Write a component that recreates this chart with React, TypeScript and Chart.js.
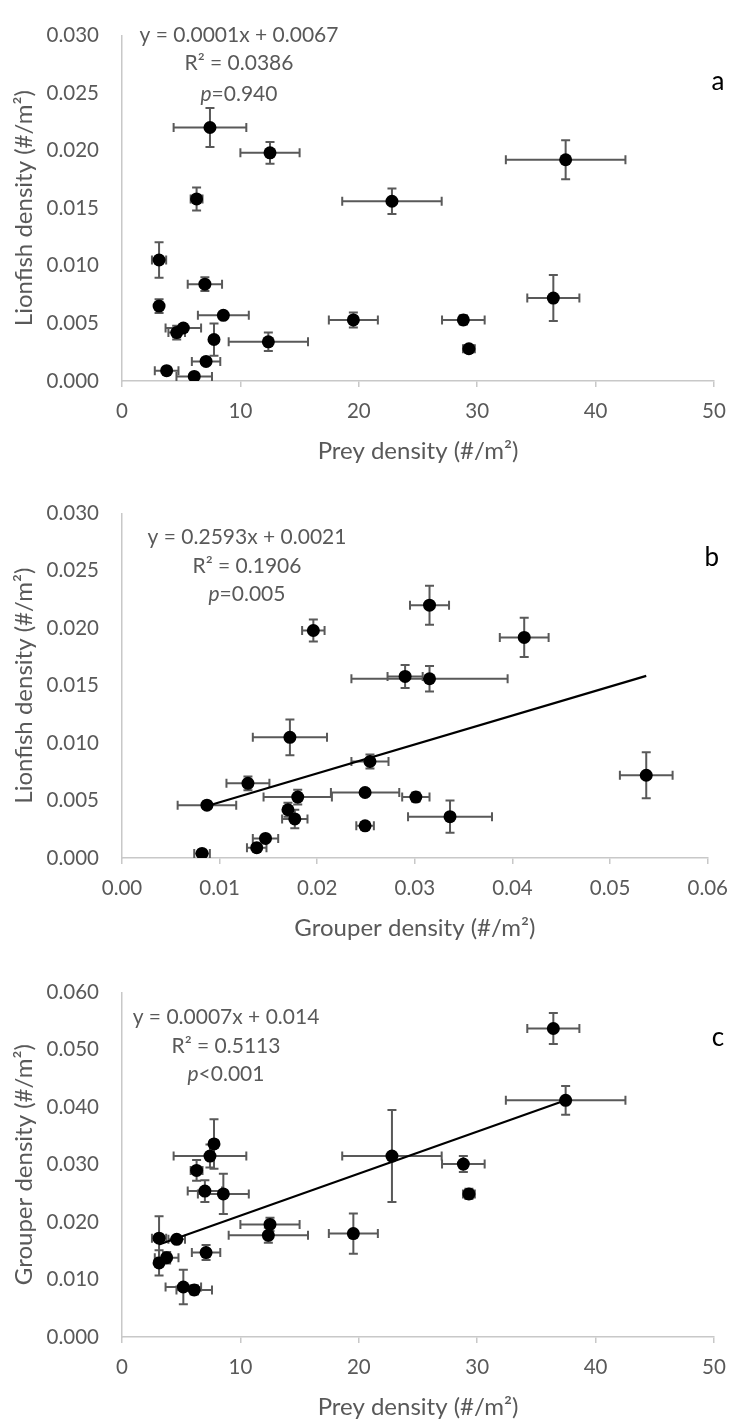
import React, { useEffect, useRef } from "react";
import { Chart, registerables } from "chart.js";

Chart.register(...registerables);

// ---- Data (20 survey sites) ----
const preyDensity = [7.43, 12.5, 6.3, 22.8, 3.13, 7.0, 3.13, 8.56, 19.54, 5.18, 4.62, 7.77, 12.36, 7.1, 3.77, 6.1, 37.47, 36.43, 28.83, 29.3];
const preyErr = [3.07, 2.5, 0.5, 4.2, 0.6, 1.45, 0.2, 2.15, 2.07, 1.5, 0.7, 0.3, 3.35, 1.2, 1.0, 1.5, 5.05, 2.2, 1.8, 0.5];
const lionfishDensity = [0.022, 0.0198, 0.0158, 0.0156, 0.0105, 0.0084, 0.0065, 0.0057, 0.0053, 0.0046, 0.0042, 0.0036, 0.0034, 0.0017, 0.0009, 0.0004, 0.0192, 0.0072, 0.0053, 0.0028];
const lionfishErr = [0.0017, 0.00095, 0.001, 0.0011, 0.00155, 0.0006, 0.0006, 0.0003, 0.00065, 0.0003, 0.0006, 0.0014, 0.0008, 0.0003, 0.0002, 0.0002, 0.0017, 0.002, 0.0004, 0.0003];
const grouperDensity = [0.0315, 0.0196, 0.029, 0.0315, 0.0172, 0.0254, 0.0129, 0.0249, 0.018, 0.0087, 0.017, 0.0336, 0.0177, 0.0147, 0.0138, 0.0082, 0.0412, 0.0537, 0.0301, 0.0249];
const grouperErr = [0.002, 0.00115, 0.0018, 0.008, 0.0038, 0.0019, 0.0022, 0.0035, 0.0035, 0.003, 0.0003, 0.0043, 0.0013, 0.0013, 0.001, 0.0008, 0.0025, 0.0027, 0.0014, 0.0009];

// trendline end points
const trendBX = [0.0082, 0.0537];
const trendBY = [0.0044, 0.01585];
const trendCX = [3.13, 37.47];
const trendCY = [0.0161, 0.0412];

// axis ticks [min, max, step]
const preyTicks = [0, 50, 10];
const lionTicks = [0, 0.03, 0.005];
const grouperXTicks = [0, 0.06, 0.01];
const grouperYTicks = [0, 0.06, 0.01];

const eqA = ["y = 0.0001x + 0.0067", "R² = 0.0386", "=0.940"];
const eqB = ["y = 0.2593x + 0.0021", "R² = 0.1906", "=0.005"];
const eqC = ["y = 0.0007x + 0.014", "R² = 0.5113", "<0.001"];

const FONT = "Lato, 'Open Sans', sans-serif";
const GRAY = "#595959";
const AXIS = "#c8c8c8";
const TICK_SIZE = 20.5;
const TITLE_SIZE = 24;
const EQ_SIZE = 21;

const errorBarPlugin = {
  id: "errorBars",
  beforeDatasetsDraw(chart: any) {
    const { ctx, scales } = chart;
    const xs = scales.x;
    const ys = scales.y;
    chart.data.datasets.forEach((ds: any) => {
      if (!ds.xErr) return;
      ctx.save();
      ctx.strokeStyle = GRAY;
      ctx.lineWidth = 2;
      const cap = 4.5;
      ds.data.forEach((p: any, i: number) => {
        const px = xs.getPixelForValue(p.x);
        const py = ys.getPixelForValue(p.y);
        const ex = ds.xErr[i];
        const ey = ds.yErr[i];
        const x0 = xs.getPixelForValue(p.x - ex);
        const x1 = xs.getPixelForValue(p.x + ex);
        const y0 = ys.getPixelForValue(p.y - ey);
        const y1 = ys.getPixelForValue(p.y + ey);
        ctx.beginPath();
        ctx.moveTo(x0, py); ctx.lineTo(x1, py);
        ctx.moveTo(x0, py - cap); ctx.lineTo(x0, py + cap);
        ctx.moveTo(x1, py - cap); ctx.lineTo(x1, py + cap);
        ctx.moveTo(px, y0); ctx.lineTo(px, y1);
        ctx.moveTo(px - cap, y0); ctx.lineTo(px + cap, y0);
        ctx.moveTo(px - cap, y1); ctx.lineTo(px + cap, y1);
        ctx.stroke();
      });
      ctx.restore();
    });
  },
};

const annotationPlugin = {
  id: "annot",
  afterDraw(chart: any, _args: any, opts: any) {
    const { ctx, chartArea } = chart;
    ctx.save();
    ctx.textBaseline = "middle";
    ctx.fillStyle = GRAY;
    const cx = chartArea.left + opts.dx;
    const lines = opts.lines;
    const f = `${EQ_SIZE}px ${FONT}`;
    const fi = `italic ${EQ_SIZE}px ${FONT}`;
    ctx.font = f;
    ctx.textAlign = "center";
    ctx.fillText(lines[0], cx, chartArea.top + opts.dy[0]);
    ctx.fillText(lines[1], cx, chartArea.top + opts.dy[1]);
    ctx.font = fi;
    const wp = ctx.measureText("p").width;
    ctx.font = f;
    const wr = ctx.measureText(lines[2]).width;
    const start = cx - (wp + wr) / 2;
    ctx.textAlign = "left";
    ctx.font = fi;
    ctx.fillText("p", start, chartArea.top + opts.dy[2]);
    ctx.font = f;
    ctx.fillText(lines[2], start + wp, chartArea.top + opts.dy[2]);
    // panel letter
    ctx.fillStyle = "#000";
    ctx.font = `26px ${FONT}`;
    ctx.textAlign = "center";
    ctx.fillText(opts.letter, chartArea.right + 4, chartArea.top + opts.letterDy);
    ctx.restore();
  },
};

type PanelSpec = {
  height: number;
  plotTop: number;
  plotBottom: number;
  xVals: number[];
  yVals: number[];
  xErr: number[];
  yErr: number[];
  xTicks: number[];
  yTicks: number[];
  xDec: number;
  yDec: number;
  xTitle: string;
  yTitle: string;
  trendX?: number[];
  trendY?: number[];
  annot: any;
};

function buildConfig(s: PanelSpec): any {
  const datasets: any[] = [
    {
      type: "scatter",
      data: s.xVals.map((x, i) => ({ x, y: s.yVals[i] })),
      xErr: s.xErr,
      yErr: s.yErr,
      pointRadius: 6.5,
      pointBackgroundColor: "#000",
      pointBorderWidth: 0,
      borderColor: "#000",
    },
  ];
  if (s.trendX && s.trendY) {
    datasets.push({
      type: "line",
      data: s.trendX.map((x, i) => ({ x, y: s.trendY![i] })),
      borderColor: "#000",
      borderWidth: 2.2,
      pointRadius: 0,
      showLine: true,
      fill: false,
    });
  }
  const lh = TITLE_SIZE * 1.2;
  const titleCenterFromBottom = s.height - (s.plotBottom + 70);
  return {
    type: "scatter",
    data: { datasets },
    plugins: [errorBarPlugin, annotationPlugin],
    options: {
      animation: false,
      responsive: false,
      events: [],
      layout: { padding: { top: s.plotTop, right: 26, left: 0, bottom: 0 } },
      plugins: {
        legend: { display: false },
        tooltip: { enabled: false },
        annot: s.annot,
      },
      scales: {
        x: {
          type: "linear",
          min: s.xTicks[0],
          max: s.xTicks[1],
          ticks: {
            stepSize: s.xTicks[2],
            callback: (v: any) => Number(v).toFixed(s.xDec),
            font: { family: FONT, size: TICK_SIZE },
            color: GRAY,
            padding: 12,
            maxRotation: 0,
            autoSkip: false,
          },
          grid: { drawOnChartArea: false, drawTicks: true, tickLength: 6, color: AXIS, lineWidth: 1.5 },
          border: { display: true, color: AXIS, width: 1.5 },
          title: {
            display: true,
            text: s.xTitle,
            font: { family: FONT, size: TITLE_SIZE },
            color: GRAY,
            padding: { top: 0, bottom: titleCenterFromBottom - lh / 2 },
          },
          afterFit: (sc: any) => {
            sc.height = s.height - s.plotBottom;
          },
        },
        y: {
          type: "linear",
          min: s.yTicks[0],
          max: s.yTicks[1],
          ticks: {
            stepSize: s.yTicks[2],
            callback: (v: any) => Number(v).toFixed(s.yDec),
            font: { family: FONT, size: TICK_SIZE },
            color: GRAY,
            padding: 23,
          },
          grid: { display: false, drawTicks: false },
          border: { display: true, color: AXIS, width: 1.5 },
          title: {
            display: true,
            text: s.yTitle,
            font: { family: FONT, size: TITLE_SIZE },
            color: GRAY,
            padding: { top: 24 - lh / 2, bottom: 0 },
          },
          afterFit: (sc: any) => {
            sc.width = 122;
          },
        },
      },
    },
  };
}

function Panel({ spec }: { spec: PanelSpec }) {
  const ref = useRef<HTMLCanvasElement>(null);
  useEffect(() => {
    const chart = new Chart(ref.current as HTMLCanvasElement, buildConfig(spec));
    return () => chart.destroy();
  }, []);
  return <canvas ref={ref} width={740} height={spec.height} style={{ display: "block" }} />;
}

const panelA: PanelSpec = {
  height: 478,
  plotTop: 22,
  plotBottom: 381,
  xVals: preyDensity,
  yVals: lionfishDensity,
  xErr: preyErr,
  yErr: lionfishErr,
  xTicks: preyTicks,
  yTicks: lionTicks,
  xDec: 0,
  yDec: 3,
  xTitle: "Prey density (#/m²)",
  yTitle: "Lionfish density (#/m²)",
  annot: { lines: eqA, dx: 117, dy: [0, 28, 59], letter: "a", letterDy: 46 },
};

const panelB: PanelSpec = {
  height: 479,
  plotTop: 21,
  plotBottom: 380,
  xVals: grouperDensity,
  yVals: lionfishDensity,
  xErr: grouperErr,
  yErr: lionfishErr,
  xTicks: grouperXTicks,
  yTicks: lionTicks,
  xDec: 2,
  yDec: 3,
  xTitle: "Grouper density (#/m²)",
  yTitle: "Lionfish density (#/m²)",
  trendX: trendBX,
  trendY: trendBY,
  annot: { lines: eqB, dx: 125, dy: [24, 53, 81], letter: "b", letterDy: 44 },
};

const panelC: PanelSpec = {
  height: 463,
  plotTop: 21,
  plotBottom: 380,
  xVals: preyDensity,
  yVals: grouperDensity,
  xErr: preyErr,
  yErr: grouperErr,
  xTicks: preyTicks,
  yTicks: grouperYTicks,
  xDec: 0,
  yDec: 3,
  xTitle: "Prey density (#/m²)",
  yTitle: "Grouper density (#/m²)",
  trendX: trendCX,
  trendY: trendCY,
  annot: { lines: eqC, dx: 104, dy: [25, 54, 82], letter: "c", letterDy: 45 },
};

export default function App() {
  useEffect(() => {
    document.body.style.margin = "0";
    document.body.style.background = "#fff";
  }, []);
  return (
    <div style={{ width: 740, background: "#fff" }}>
      <Panel spec={panelA} />
      <Panel spec={panelB} />
      <Panel spec={panelC} />
    </div>
  );
}
